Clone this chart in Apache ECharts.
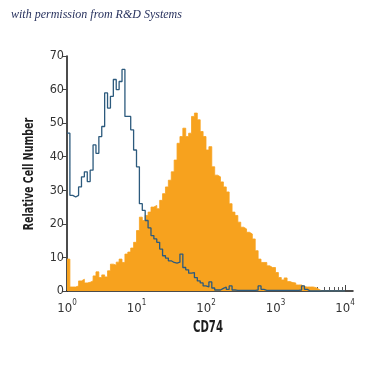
<!DOCTYPE html>
<html>
<head>
<meta charset="utf-8">
<script src="https://cdn.jsdelivr.net/npm/echarts@6/dist/echarts.min.js"></script>
<style>
html,body{margin:0;padding:0;background:#fff;}
#chart{width:375px;height:375px;}
</style>
</head>
<body>
<div id="chart"></div>
<script>
// Histogram bins: 24 bins per decade over 10^0 .. 10^4 (x in log10 units of CD74 fluorescence)
const binsPerDecade = 24;
const decadeExponents = [0, 1, 2, 3, 4];
const minorMultipliers = [2, 3, 4, 5, 6, 7, 8, 9];
const yTicks = [0, 10, 20, 30, 40, 50, 60, 70];

// Isotype control (open blue outline)
const isotypeCounts = [
  47, 28.5, 28, 28.5, 31, 34, 35.5, 32.6, 36, 43.5,
  41, 46, 49, 59, 54.5, 58, 63, 60, 62.4, 66,
  52, 52, 48, 42, 37, 26, 24, 21, 18.8, 16.5,
  15.5, 14.5, 12.5, 10.5, 9.8, 9, 8.5, 8.3, 8.6, 11,
  7, 6.3, 5.3, 5.5, 4, 3, 2.4, 1.5, 1.2, 2.7,
  0.9, 0.3, 0.3, 0.8, 1.2, 0.5, 1.5, 0.3, 0.2, 0.2,
  0.2, 0.2, 0.2, 0.2, 0.2, 0.3, 1.5, 0.5, 0.2, 0.2,
  0.2, 0.2, 0.2, 0.2, 0.2, 0.2, 0.2, 0.2, 0.2, 0.2,
  0.3, 1.5, 0.5, 0, 0, 0, 0, 0, 0, 0,
  0, 0, 0, 0, 0, 0
];

// CD74 stained (filled orange)
const cd74Counts = [
  9.5, 1.2, 1.2, 1.5, 3, 3.5, 2.4, 2.6, 3, 4.5,
  5.7, 4, 4.8, 4.2, 6, 8, 7.7, 8.6, 9.5, 8.5,
  11, 11.6, 12.8, 14.5, 18, 22, 21, 22.5, 23.5, 25,
  25.5, 24.5, 27, 29, 31, 33, 35.5, 39, 44, 46,
  48.5, 46, 47, 52, 53, 51, 47.5, 46, 42, 43,
  37, 34.5, 34, 32.5, 31, 29.5, 26, 23.5, 22.5, 20.5,
  19, 18.5, 17.5, 17, 15.5, 12, 9.5, 8.5, 8.5, 7.5,
  7, 7, 5.5, 4, 3.3, 3.9, 2.8, 2.5, 2.4, 1.8,
  1.8, 1.3, 1.2, 1.2, 1.2, 1, 0.5, 0, 0, 0,
  0, 0, 0, 0, 0, 0
];

function toSteps(counts) {
  const pts = counts.map((c, i) => [i / binsPerDecade, c]);
  pts.push([counts.length / binsPerDecade, counts[counts.length - 1]]);
  return pts;
}

const minorTickValues = [];
decadeExponents.slice(0, 4).forEach(d => {
  minorMultipliers.forEach(m => minorTickValues.push(d + Math.log10(m)));
});

const narrow = '"DejaVu Sans Condensed", "DejaVu Sans", sans-serif';
const xMax = 4.115;

const chart = echarts.init(document.getElementById('chart'), null, {renderer: 'canvas'});
chart.setOption({
  animation: false,
  backgroundColor: '#ffffff',
  graphic: [{
    type: 'text',
    x: 11,
    y: 9,
    style: {
      text: 'with permission from R&D Systems',
      font: 'italic 12px "Liberation Serif", "DejaVu Serif", serif',
      fill: '#28325e'
    }
  }, {
    type: 'text',
    x: 29,
    y: 174,
    rotation: Math.PI / 2,
    scaleX: 0.75,
    style: {
      text: 'Relative Cell Number',
      font: 'bold 14px ' + narrow,
      fill: '#1e1e1e',
      align: 'center',
      verticalAlign: 'middle'
    }
  }, {
    type: 'text',
    x: 208,
    y: 328,
    scaleX: 0.75,
    style: {
      text: 'CD74',
      font: 'bold 15px ' + narrow,
      fill: '#1e1e1e',
      align: 'center',
      verticalAlign: 'middle'
    }
  }],
  grid: {left: 67, top: 56, width: 286, height: 235, containLabel: false},
  xAxis: [{
    type: 'value',
    min: 0,
    max: xMax,
    position: 'bottom',
    axisLine: {show: true, lineStyle: {color: '#111', width: 1.5}},
    axisTick: {show: true, inside: true, length: 6, customValues: decadeExponents, lineStyle: {color: '#444', width: 1}},
    axisLabel: {
      customValues: decadeExponents,
      margin: 8,
      formatter: v => '{b|10}{s|' + v + '}',
      rich: {
        b: {fontFamily: narrow, fontSize: 13, color: '#333', lineHeight: 16, verticalAlign: 'bottom'},
        s: {fontFamily: narrow, fontSize: 8, color: '#333', lineHeight: 16, verticalAlign: 'top'}
      }
    },
    splitLine: {show: false}
  }, {
    type: 'value',
    min: 0,
    max: xMax,
    position: 'bottom',
    offset: 0,
    axisLine: {show: false},
    axisTick: {show: true, inside: true, length: 4, customValues: minorTickValues, lineStyle: {color: '#555', width: 1}},
    axisLabel: {show: false},
    splitLine: {show: false}
  }],
  yAxis: {
    type: 'value',
    min: 0,
    max: 70,
    interval: 10,
    axisLine: {show: true, lineStyle: {color: '#111', width: 1.5}},
    axisTick: {show: true, inside: false, length: 5, lineStyle: {color: '#444', width: 1}},
    axisLabel: {fontFamily: narrow, fontSize: 12.5, color: '#333', margin: 3},
    splitLine: {show: false}
  },
  series: [{
    name: 'CD74',
    type: 'line',
    step: 'end',
    xAxisIndex: 0,
    data: toSteps(cd74Counts),
    symbol: 'none',
    lineStyle: {color: '#f7a21e', width: 0.8},
    areaStyle: {color: '#f7a21e', opacity: 1},
    z: 2
  }, {
    name: 'Isotype',
    type: 'line',
    step: 'end',
    xAxisIndex: 0,
    data: toSteps(isotypeCounts),
    symbol: 'none',
    lineStyle: {color: '#2c5a7d', width: 1.3},
    z: 3
  }]
});
</script>
</body>
</html>
